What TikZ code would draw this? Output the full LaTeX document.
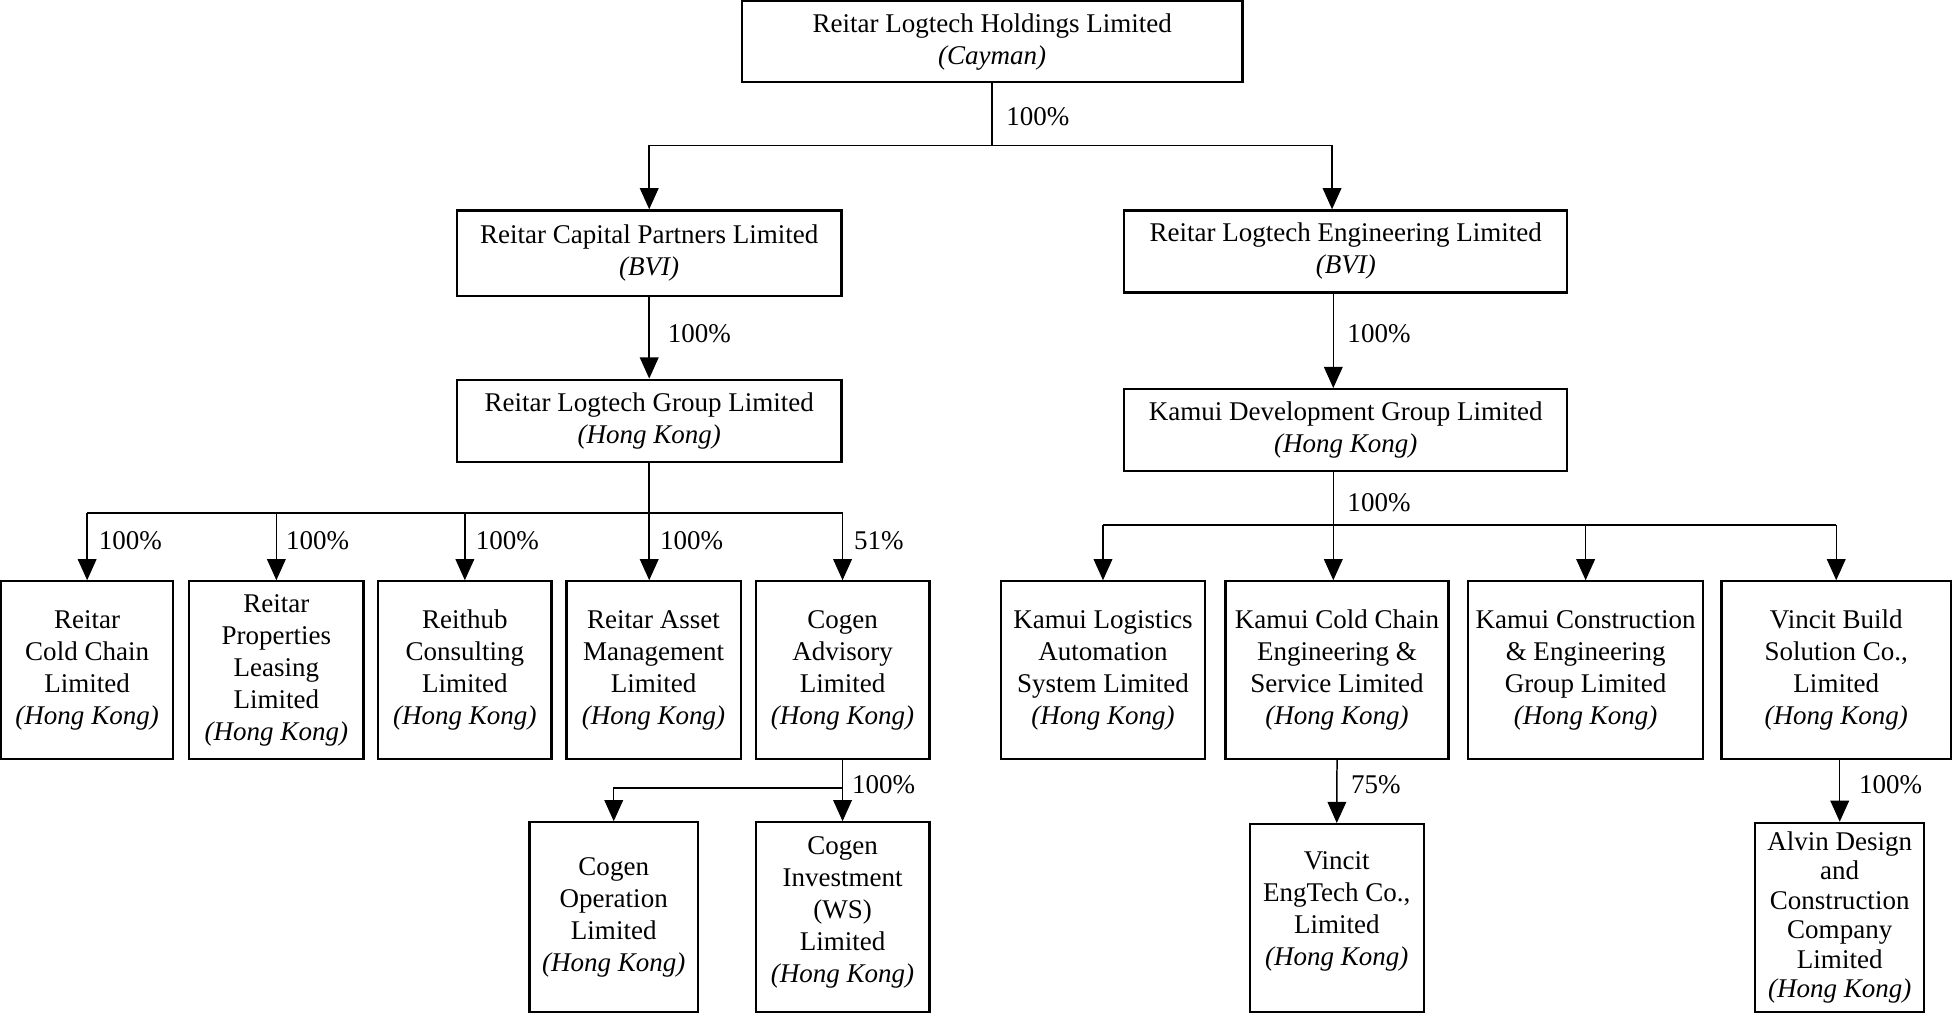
\documentclass[tikz,border=0pt]{standalone}
\usepackage{fontspec}
\setmainfont{Liberation Serif}
\usetikzlibrary{arrows.meta}
\begin{document}
\begin{tikzpicture}[x=0.5pt,y=-0.5pt,
  every node/.style={font=\fontsize{10.85pt}{12.85pt}\selectfont},
  ent/.style={draw, line width=0.9pt, align=center, inner sep=0pt},
  conn/.style={line width=0.6pt},
  arr/.style={line width=0.6pt, -{Triangle[length=8.5pt,width=7.5pt]}},
  pct/.style={anchor=west, inner sep=0pt}]
\useasboundingbox (0,0) rectangle (1568,814);

% level 0
\node[ent, minimum width=201pt, minimum height=32.5pt] (top) at (797,33.5)
  {Reitar Logtech Holdings Limited\\\textit{(Cayman)}};
% level 1
\node[ent, minimum width=154.5pt, minimum height=34.5pt] (cap) at (521.5,203.5)
  {Reitar Capital Partners Limited\\\textit{(BVI)}};
\node[ent, minimum width=178pt, minimum height=33pt] (eng) at (1081,202)
  {Reitar Logtech Engineering Limited\\\textit{(BVI)}};
% level 2
\node[ent, minimum width=154.5pt, minimum height=33pt] (grp) at (521.5,338)
  {Reitar Logtech Group Limited\\\textit{(Hong Kong)}};
\node[ent, minimum width=178pt, minimum height=33pt] (kam) at (1081,345.6)
  {Kamui Development Group Limited\\\textit{(Hong Kong)}};
% level 3 left
\node[ent, minimum width=69pt, minimum height=71.25pt] (b1) at (70,538.25)
  {Reitar\\Cold Chain\\Limited\\\textit{(Hong Kong)}};
\node[ent, minimum width=70pt, minimum height=71.25pt] (b2) at (222,538.25)
  {Reitar\\Properties\\Leasing\\Limited\\\textit{(Hong Kong)}};
\node[ent, minimum width=69.6pt, minimum height=71.25pt] (b3) at (373.4,538.25)
  {Reithub\\Consulting\\Limited\\\textit{(Hong Kong)}};
\node[ent, minimum width=70pt, minimum height=71.25pt] (b4) at (525,538.25)
  {Reitar Asset\\Management\\Limited\\\textit{(Hong Kong)}};
\node[ent, minimum width=69.75pt, minimum height=71.25pt] (b5) at (676.8,538.25)
  {Cogen\\Advisory\\Limited\\\textit{(Hong Kong)}};
% level 3 right
\node[ent, minimum width=82.1pt, minimum height=71.25pt] (r1) at (886,538.25)
  {Kamui Logistics\\Automation\\System Limited\\\textit{(Hong Kong)}};
\node[ent, minimum width=89.5pt, minimum height=71.25pt] (r2) at (1074,538.25)
  {Kamui Cold Chain\\Engineering \&\\Service Limited\\\textit{(Hong Kong)}};
\node[ent, minimum width=94.25pt, minimum height=71.25pt] (r3) at (1273.7,538.25)
  {Kamui Construction\\\& Engineering\\Group Limited\\\textit{(Hong Kong)}};
\node[ent, minimum width=92.25pt, minimum height=71.25pt] (r4) at (1475,538.25)
  {Vincit Build\\Solution Co.,\\Limited\\\textit{(Hong Kong)}};
% level 4
\node[ent, minimum width=67.6pt, minimum height=76.25pt] (cop) at (493,736.8)
  {Cogen\\Operation\\Limited\\\textit{(Hong Kong)}};
\node[ent, minimum width=69.75pt, minimum height=76.25pt, text depth=6.5pt] (cinv) at (676.8,736.8)
  {Cogen\\Investment\\(WS)\\Limited\\\textit{(Hong Kong)}};
\node[ent, minimum width=69.8pt, minimum height=75.5pt, text depth=8pt] (veng) at (1073.8,737.5)
  {Vincit\\EngTech Co.,\\Limited\\\textit{(Hong Kong)}};
\node[ent, minimum width=67.8pt, minimum height=76pt,
  font=\fontsize{10.85pt}{11.8pt}\selectfont] (alvin) at (1477.8,737)
  {Alvin Design\\and\\Construction\\Company\\Limited\\\textit{(Hong Kong)}};

% connectors: top
\path (top.south) ++(0,50) coordinate (t0);
\draw[conn] (top.south) -- (t0);
\draw[arr] (t0) -| (cap.north);
\draw[arr] (t0) -| ([xshift=-5.5pt]eng.north);
\node[pct] (p0) at (808,94) {100\%};

\draw[arr] (cap.south) -- (grp.north);
\node[pct] (p1) at (536,268) {100\%};
\draw[arr] ([xshift=-5pt]eng.south) -- ([xshift=-5pt]kam.north);
\node[pct] (p2) at (1082,268) {100\%};

% group bus
\path (grp.south) ++(0,40) coordinate (g0);
\draw[conn] (g0 -| b1.north) -- (g0 -| b5.north);
\draw[arr] (grp.south) -- (grp.south |- b4.north);
\foreach \n in {b1,b2,b3,b5} \draw[arr] (g0 -| \n.north) -- (\n.north);
\node[pct] (p3) at (79,434) {100\%};
\node[pct] (p4) at (229.5,434) {100\%};
\node[pct] (p5) at (381.8,434) {100\%};
\node[pct] (p6) at (529.8,434) {100\%};
\node[pct] (p7) at (685.6,434) {51\%};

% kamui bus
\path ([xshift=-5pt]kam.south) ++(0,42.4) coordinate (k0);
\draw[conn] (k0 -| r1.north) -- (k0 -| r4.north);
\draw[arr] ([xshift=-5pt]kam.south) -- (k0 |- r2.north);
\foreach \n in {r1,r3,r4} \draw[arr] (k0 -| \n.north) -- (\n.north);
\node[pct] (p8) at (1082,404) {100\%};

% cogen
\path (b5.south) ++(0,22.5) coordinate (c0);
\draw[arr] (b5.south) -- (cinv.north);
\draw[arr] (c0) -| (cop.north);
\node[pct] (p9) at (684,630) {100\%};

% vincit
\draw[arr] (r2.south) -- (veng.north);
\node[pct] (p10) at (1085,630) {75\%};
\draw[arr] (r4.south -| alvin.north) -- (alvin.north);
\node[pct] (p11) at (1493,630) {100\%};
\end{tikzpicture}
\end{document}
